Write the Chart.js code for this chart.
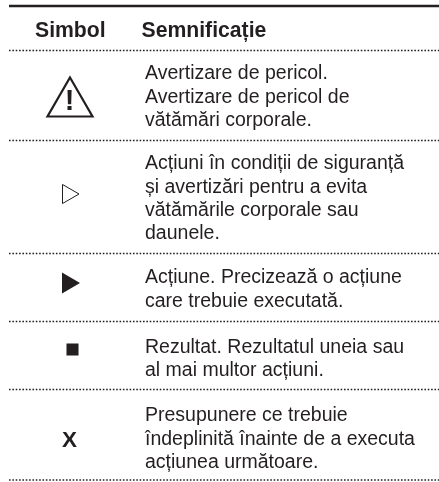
<!DOCTYPE html>
<html><head><meta charset="utf-8">
<style>html,body{margin:0;padding:0;background:#fff}#w{width:439px;height:482px}</style>
<script src="https://cdn.jsdelivr.net/npm/chart.js@4"></script></head>
<body><div id="w"><canvas id="c"></canvas></div>
<script>
const headerLabels = ["Simbol", "Semnificație"];
const rowLines = [
  ["Avertizare de pericol.", "Avertizare de pericol de", "vătămări corporale."],
  ["Acțiuni în condiții de siguranță", "și avertizări pentru a evita", "vătămările corporale sau", "daunele."],
  ["Acțiune. Precizează o acțiune", "care trebuie executată."],
  ["Rezultat. Rezultatul uneia sau", "al mai multor acțiuni."],
  ["Presupunere ce trebuie", "îndeplinită înainte de a executa", "acțiunea următoare."]
];
const topRule = [6];
const dottedRules = [50.5, 140.5, 253.5, 321.5, 389.5, 480];
const textBaselines = [
  [79, 102.5, 126],
  [169, 192.5, 215.5, 238.5],
  [283, 306.5],
  [353, 376],
  [421, 444.5, 467.5]
];
const headerBaseline = [37];
const symbolColumn = [68];
const symbolCenters = [103.5, 194, 283, 349.5, 438];
const INK = "#231f20";
const FONT = '"Liberation Sans", Arial, sans-serif';

const rule = (y, width, dash) => ({
  type: "line", data: [{x: 9, y}, {x: 439, y}], borderColor: INK, borderWidth: width,
  borderDash: dash, pointRadius: 0, showLine: true, fill: false
});
const pointSet = (i, style, r, rot, fill, bw) => ({
  type: "scatter", data: [{x: symbolColumn[0] + (i === 0 ? 2 : i === 3 ? 4.5 : 0), y: symbolCenters[i]}],
  pointStyle: style, pointRadius: r, pointRotation: rot,
  pointBackgroundColor: fill, pointBorderColor: INK, pointBorderWidth: bw
});

const textPlugin = {
  id: "tableText",
  afterDatasetsDraw(chart) {
    const {ctx, scales: {x, y}} = chart;
    const put = (s, px, py, font, align) => {
      ctx.font = font; ctx.textAlign = align || "left"; ctx.textBaseline = "alphabetic";
      ctx.fillStyle = INK; ctx.fillText(s, x.getPixelForValue(px), y.getPixelForValue(py));
    };
    ctx.save();
    put(headerLabels[0], 35, headerBaseline[0], "bold 21.2px " + FONT);
    put(headerLabels[1], 141.5, headerBaseline[0], "bold 21.2px " + FONT);
    rowLines.forEach((lines, r) => lines.forEach((s, i) =>
      put(s, 145, textBaselines[r][i], "19.5px " + FONT)));
    put("!", 69.5, 110, "bold 29px " + FONT, "center");
    put("X", 69.5, 446.5, "bold 22.5px " + FONT, "center");
    ctx.restore();
  }
};

new Chart(document.getElementById("c"), {
  data: {
    datasets: [
      rule(topRule[0], 2.4, []),
      ...dottedRules.map(y => rule(y, 1.6, [1.6, 1.75])),
      pointSet(0, "triangle", 26, 0, "rgba(0,0,0,0)", 2.2),
      pointSet(1, "triangle", 11, 90, "rgba(0,0,0,0)", 1),
      pointSet(2, "triangle", 12, 90, INK, 0),
      pointSet(3, "rect", 8.5, 0, INK, 0)
    ]
  },
  options: {
    responsive: true, maintainAspectRatio: false, animation: false,
    layout: {padding: 0, autoPadding: false},
    plugins: {legend: {display: false}, tooltip: {enabled: false}},
    elements: {line: {tension: 0, borderCapStyle: "butt"}},
    scales: {
      x: {type: "linear", display: false, min: 0, max: 439},
      y: {type: "linear", display: false, min: 0, max: 482, reverse: true}
    }
  },
  plugins: [textPlugin]
});
</script></body></html>
